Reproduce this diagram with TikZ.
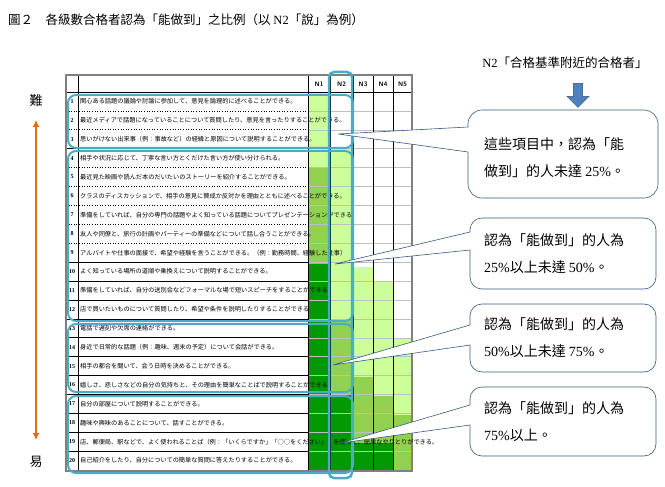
\documentclass[tikz,border=0pt]{standalone}
\usepackage{fontspec}
\setmainfont{Liberation Serif}
\newfontfamily\tc{Noto Sans CJK TC}
\newfontfamily\jp{Noto Sans CJK JP}
\usetikzlibrary{shapes.arrows,arrows.meta}
\definecolor{lg}{HTML}{CCFF99}
\definecolor{mg}{HTML}{92D050}
\definecolor{dg}{HTML}{009900}
\definecolor{bx}{HTML}{4BACC6}
\definecolor{org}{HTML}{E46C0A}
\definecolor{arr}{HTML}{4F81BD}
\tikzset{
 rowtxt/.style={anchor=west,text width=226pt,align=left,inner sep=0pt,font=\jp\fontsize{6.2}{7}\selectfont},
 rownum/.style={font=\fontsize{6}{7}\selectfont\bfseries,inner sep=0pt},
 hdr/.style={font=\fontsize{6.5}{7}\selectfont\sffamily\bfseries,inner sep=0pt},
 grp/.style={draw=bx,line width=2pt,rounded corners=8pt},
 callout/.style={draw=arr!70!black,fill=white,line width=0.6pt},
 ctext/.style={font=\tc\fontsize{14}{27}\selectfont,align=left,inner sep=0pt,anchor=west}
}
\begin{document}
\begin{tikzpicture}[x=1pt,y=-1pt]
\useasboundingbox (0,0) rectangle (665,487);
\node[anchor=west,inner sep=0pt,font=\tc\fontsize{12.5}{14}\selectfont] (title) at (8,20) {圖２\quad 各級數合格者認為「能做到」之比例（以 {\rmfamily N2}「說」為例）};
% fills
\fill[lg] (308,92) rectangle (330,168);
\fill[mg] (308,168) rectangle (330,264);
\fill[dg] (308,264) rectangle (330,470);
\fill[lg] (330,149) rectangle (353,319);
\fill[mg] (330,319) rectangle (353,394);
\fill[dg] (330,394) rectangle (353,470);
\fill[lg] (353,267) rectangle (373,377);
\fill[mg] (353,377) rectangle (373,443);
\fill[dg] (353,443) rectangle (373,470);
\fill[lg] (373,282) rectangle (393,396);
\fill[mg] (373,396) rectangle (393,443);
\fill[dg] (373,443) rectangle (393,470);
\fill[lg] (393,338) rectangle (412,415);
\fill[mg] (393,415) rectangle (412,470);
% row lines
\foreach \k in {1,...,19}{
  \pgfmathsetmacro\yy{92+\k*18.9}
  \draw[gray!50,line width=0.4pt] (308,\yy) -- (412,\yy);
}
\foreach \k in {1,2,4,5,6,7,8}{
  \pgfmathsetmacro\yy{92+\k*18.9}
  \draw[dotted,line width=0.6pt] (66,\yy) -- (308,\yy);
}
\foreach \k in {3,9,10,11,12,13,14,15,16,17,18,19}{
  \pgfmathsetmacro\yy{92+\k*18.9}
  \draw[line width=0.6pt] (66,\yy) -- (308,\yy);
}
\draw[line width=0.8pt] (66,92) -- (412,92);
\foreach \x in {78,308,330,353,373,393}{\draw[line width=0.7pt] (\x,75) -- (\x,470);}
\draw[gray,line width=1.5pt] (66,75) rectangle (412,471);
% headers
\node[hdr] (h1) at (319,84) {N1};
\node[hdr] (h2) at (341.5,84) {N2};
\node[hdr] (h3) at (363,84) {N3};
\node[hdr] (h4) at (383,84) {N4};
\node[hdr] (h5) at (402.5,84) {N5};
% rows
\foreach \k/\txt in {
1/関心ある話題の議論や討論に参加して、意見を論理的に述べることができる。,
2/最近メディアで話題になっていることについて質問したり、意見を言ったりすることができる。,
3/思いがけない出来事（例：事故など）の経緯と原因について説明することができる。,
4/相手や状況に応じて、丁寧な言い方とくだけた言い方が使い分けられる。,
5/最近見た映画や読んだ本のだいたいのストーリーを紹介することができる。,
6/クラスのディスカッションで、相手の意見に賛成か反対かを理由とともに述べることができる。,
7/準備をしていれば、自分の専門の話題やよく知っている話題についてプレゼンテーションができる。,
8/友人や同僚と、旅行の計画やパーティーの準備などについて話し合うことができる。,
9/アルバイトや仕事の面接で、希望や経験を言うことができる。（例：勤務時間、経験した仕事）,
10/よく知っている場所の道順や乗換えについて説明することができる。,
11/準備をしていれば、自分の送別会などフォーマルな場で短いスピーチをすることができる。,
12/店で買いたいものについて質問したり、希望や条件を説明したりすることができる,
13/電話で遅刻や欠席の連絡ができる。,
14/身近で日常的な話題（例：趣味、週末の予定）について会話ができる。,
15/相手の都合を聞いて、会う日時を決めることができる。,
16/嬉しさ、悲しさなどの自分の気持ちと、その理由を簡単なことばで説明することができる。,
17/自分の部屋について説明することができる。,
18/趣味や興味のあることについて、話すことができる。,
19/店、郵便局、駅などで、よく使われることば（例：「いくらですか」「○○をください」）を使って、簡単なやりとりができる。,
20/自己紹介をしたり、自分についての簡単な質問に答えたりすることができる。}{
  \pgfmathsetmacro\yc{92+(\k-0.5)*18.9}
  \node[rownum] (n\k) at (72,\yc) {\k};
  \node[rowtxt] (t\k) at (80,\yc) {\txt};
}
% group boxes
\draw[grp] (68,95) rectangle (353,148);
\draw[grp] (68,151) rectangle (353,321);
\draw[grp] (68,324) rectangle (353,392);
\draw[grp] (68,396) rectangle (353,473);
\draw[draw=bx,line width=2.5pt,rounded corners=5pt] (329,72) rectangle (352,478);
% difficulty arrow
\node[font=\tc\fontsize{13}{14}\selectfont] (hard) at (36,101) {難};
\node[font=\tc\fontsize{13}{14}\selectfont] (easy) at (36,462) {易};
\coordinate (atop) at (36,120);
\coordinate (abot) at (36,440);
\draw[org,line width=2.2pt,{Latex[length=7pt,width=7pt]}-{Latex[length=7pt,width=7pt]}] (atop) -- (abot);
% top right
\node[font=\tc\fontsize{12.5}{14}\selectfont,inner sep=0pt] (n2lab) at (565,63) {{\rmfamily N2}「合格基準附近的合格者」};
\node[single arrow,shape border rotate=270,draw=arr!60!black,fill=arr,minimum width=22pt,single arrow head extend=3pt,minimum height=24pt,inner sep=2pt] (darr) at (578,93) {};
% callouts
\coordinate (p1) at (338,134);
\coordinate (p2) at (335,264);
\coordinate (p3) at (333,365);
\coordinate (p4) at (341,443);
\draw[callout] (p1) -- (468,127) [rounded corners=14pt] -- (468,110) -- (658,110) -- (658,198) -- (468,198) [sharp corners] -- (468,152) -- cycle;
\draw[callout] (p2) -- (470,232) [rounded corners=12pt] -- (470,218) -- (656,218) -- (656,289) -- (470,289) [sharp corners] -- (470,250) -- cycle;
\draw[callout] (p3) -- (470,325) [rounded corners=12pt] -- (470,304) -- (656,304) -- (656,372) -- (470,372) [sharp corners] -- (470,345) -- cycle;
\draw[callout] (p4) -- (470,405) [rounded corners=12pt] -- (470,387) -- (656,387) -- (656,456) -- (470,456) [sharp corners] -- (470,425) -- cycle;
\node[ctext] (c1) at (484,158) {這些項目中，認為「能\\做到」的人未達 {\rmfamily 25\%}。};
\node[ctext] (c2) at (484,254) {認為「能做到」的人為\\{\rmfamily 25\%}以上未達 {\rmfamily 50\%}。};
\node[ctext] (c3) at (484,338) {認為「能做到」的人為\\{\rmfamily 50\%}以上未達 {\rmfamily 75\%}。};
\node[ctext] (c4) at (484,422) {認為「能做到」的人為\\{\rmfamily 75\%}以上。};
\end{tikzpicture}
\end{document}
